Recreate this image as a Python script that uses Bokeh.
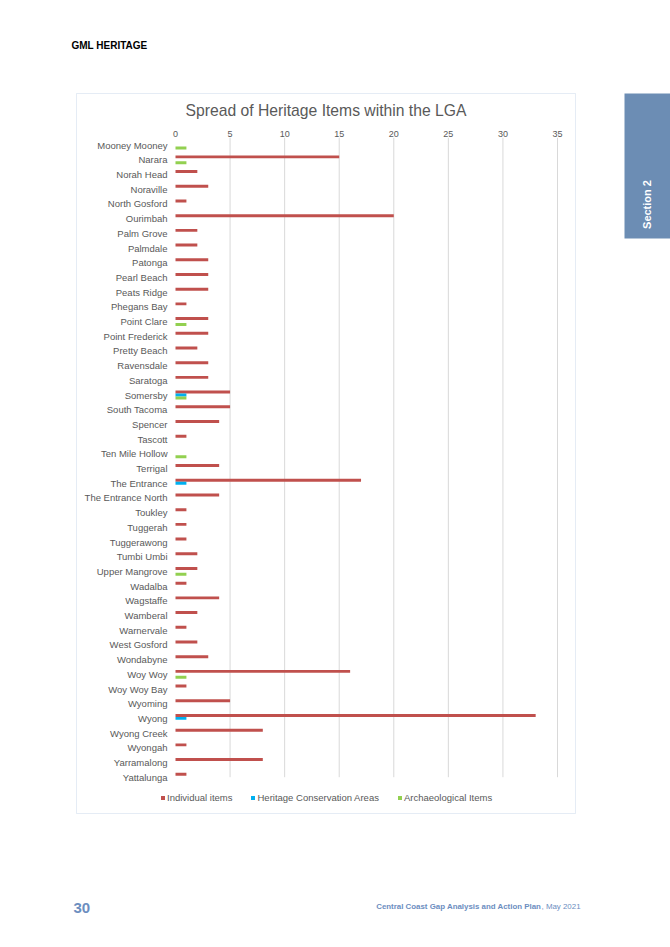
from bokeh.plotting import figure
from bokeh.models import (Range1d, Label, BoxAnnotation, Legend, LegendItem,
                          FixedTicker, ColumnDataSource, LinearAxis)
from bokeh.transform import dodge
from bokeh.embed import file_html
from bokeh.resources import INLINE

places = ["Mooney Mooney", "Narara", "Norah Head", "Noraville", "North Gosford",
          "Ourimbah", "Palm Grove", "Palmdale", "Patonga", "Pearl Beach",
          "Peats Ridge", "Phegans Bay", "Point Clare", "Point Frederick",
          "Pretty Beach", "Ravensdale", "Saratoga", "Somersby", "South Tacoma",
          "Spencer", "Tascott", "Ten Mile Hollow", "Terrigal", "The Entrance",
          "The Entrance North", "Toukley", "Tuggerah", "Tuggerawong",
          "Tumbi Umbi", "Upper Mangrove", "Wadalba", "Wagstaffe", "Wamberal",
          "Warnervale", "West Gosford", "Wondabyne", "Woy Woy", "Woy Woy Bay",
          "Wyoming", "Wyong", "Wyong Creek", "Wyongah", "Yarramalong",
          "Yattalunga"]
individual = [0, 15, 2, 3, 1, 20, 2, 2, 3, 3, 3, 1, 3, 3, 2, 3, 3, 5, 5, 4,
              1, 0, 4, 17, 4, 1, 1, 1, 2, 2, 1, 4, 2, 1, 2, 3, 16, 1, 5, 33,
              8, 1, 8, 1]
conservation = [0, 0, 0, 0, 0, 0, 0, 0, 0, 0, 0, 0, 0, 0, 0, 0, 0, 1, 0, 0,
                0, 0, 0, 1, 0, 0, 0, 0, 0, 0, 0, 0, 0, 0, 0, 0, 0, 0, 0, 1,
                0, 0, 0, 0]
archaeological = [1, 1, 0, 0, 0, 0, 0, 0, 0, 0, 0, 0, 1, 0, 0, 0, 0, 1, 0, 0,
                  0, 1, 0, 0, 0, 0, 0, 0, 0, 1, 0, 0, 0, 0, 0, 0, 1, 0, 0, 0,
                  0, 0, 0, 0]
series_names = ["Individual items", "Heritage Conservation Areas",
                "Archaeological Items"]
x_ticks = [0, 5, 10, 15, 20, 25, 30, 35]

# ---- page geometry (canvas px) ----
W, H = 670, 947
X0, X35 = 175.0, 557.0          # pixel of value 0 and of value 35
Y_FIRST, DY = 144.6, 14.7       # pixel of first category centre, spacing
KX = (X35 - X0) / 35.0

FONT = "Liberation Sans"
GREY = "#595959"
BLUE_GREY = "#6C8EBF"
COLORS = ["#C0504D", "#00B0F0", "#92D050"]

n = len(places)
idx = list(range(n))
source = ColumnDataSource(dict(idx=idx, place=places, ind=individual,
                               hca=conservation, arch=archaeological))

x_range = Range1d(-X0 / KX, (W - X0) / KX)
y_range = Range1d((H - Y_FIRST) / DY, -Y_FIRST / DY)   # reversed: first on top

p = figure(width=W, height=H, output_backend="svg", toolbar_location=None,
           x_range=x_range, y_range=y_range, x_axis_type=None,
           y_axis_type=None, title=None, min_border=0,
           min_border_left=0, min_border_right=0, min_border_top=0,
           min_border_bottom=0)
p.outline_line_color = None
p.background_fill_color = "white"
p.border_fill_color = "white"
p.xgrid.visible = False
p.ygrid.visible = False

# vertical gridlines (skip 0, hidden in the reference)
p.segment(x0=x_ticks[1:], x1=x_ticks[1:], y0=-0.5, y1=n - 1,
          line_color="#D9D9D9", line_width=1)

r1 = p.hbar(y=dodge("idx", -0.2), left=0, right="ind", height=0.2,
            fill_color=COLORS[0], line_color=None, source=source)
r2 = p.hbar(y=dodge("idx", 0.0), left=0, right="hca", height=0.2,
            fill_color=COLORS[1], line_color=None, source=source)
r3 = p.hbar(y=dodge("idx", 0.2), left=0, right="arch", height=0.2,
            fill_color=COLORS[2], line_color=None, source=source)

# value axis on top of the plot area
xa = LinearAxis(fixed_location=-0.5, ticker=FixedTicker(ticks=x_ticks))
xa.axis_line_color = None
xa.major_tick_line_color = None
xa.minor_tick_line_color = None
xa.major_tick_out = 0
xa.major_tick_in = 0
xa.major_label_standoff = 1
xa.major_label_text_font = FONT
xa.major_label_text_font_size = "9px"
xa.major_label_text_color = GREY
p.add_layout(xa, "above")

# category axis
ya = LinearAxis(fixed_location=0, ticker=FixedTicker(ticks=idx),
                major_label_overrides={i: s for i, s in zip(idx, places)})
ya.axis_line_color = None
ya.major_tick_line_color = None
ya.minor_tick_line_color = None
ya.major_tick_out = 0
ya.major_tick_in = 0
ya.major_label_standoff = 8
ya.major_label_text_font = FONT
ya.major_label_text_font_size = "9.5px"
ya.major_label_text_color = GREY
p.add_layout(ya, "left")

# chart box border
p.add_layout(BoxAnnotation(left=76, right=575, top=93, bottom=813,
                           left_units="canvas", right_units="canvas",
                           top_units="canvas", bottom_units="canvas",
                           fill_alpha=0, line_color="#A9BFDD", line_width=1))
# section tab
p.add_layout(BoxAnnotation(left=624, right=670, top=93, bottom=238,
                           left_units="canvas", right_units="canvas",
                           top_units="canvas", bottom_units="canvas",
                           fill_color="#6C8DB4", fill_alpha=1, line_color=None))


def label(text, cx, cy, size, color, align="left", bold=False, angle=0):
    p.add_layout(Label(text=text, x=cx, y=H - cy, x_units="screen",
                       y_units="screen", text_align=align,
                       text_baseline="middle", text_font=FONT,
                       text_font_size=size, text_color=color,
                       text_font_style="bold" if bold else "normal",
                       angle=angle))


label("Spread of Heritage Items within the LGA", 325.5, 110, "15.7px", GREY,
      align="center")
label("GML HERITAGE", 71, 45, "10px", "#000000", bold=True)
label("Section 2", 646, 204, "11px", "#FFFFFF", align="center", bold=True,
      angle=1.5707963)
label("30", 73, 907, "15px", BLUE_GREY, bold=True)
label("Central Coast Gap Analysis and Action Plan", 541, 905.5, "7.9px",
      BLUE_GREY, align="right", bold=True)
label(", May 2021", 541, 905.5, "7.9px", BLUE_GREY)

legend = Legend(items=[LegendItem(label=series_names[0], renderers=[r1]),
                       LegendItem(label=series_names[1], renderers=[r2]),
                       LegendItem(label=series_names[2], renderers=[r3])],
                location=(160, H - 803.3), orientation="horizontal",
                padding=0, spacing=18, label_standoff=2, glyph_width=5,
                glyph_height=5, label_height=10, margin=0,
                label_text_font=FONT, label_text_font_size="9.5px",
                label_text_color=GREY, border_line_color=None,
                background_fill_alpha=0)
p.add_layout(legend, "center")

open("out.html", "w").write(file_html(p, INLINE))
